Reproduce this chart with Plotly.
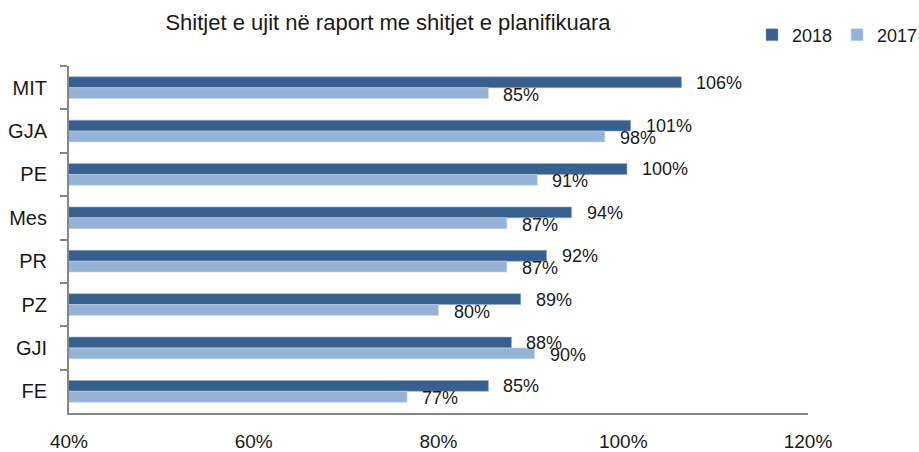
import plotly.graph_objects as go

categories = ["MIT", "GJA", "PE", "Mes", "PR", "PZ", "GJI", "FE"]
values_2018 = [106.3, 100.8, 100.4, 94.4, 91.7, 88.9, 87.9, 85.4]
values_2017 = [85.4, 98.0, 90.7, 87.4, 87.4, 80.0, 90.4, 76.6]
tick_vals = [40, 60, 80, 100, 120]
tick_text = ["40%", "60%", "80%", "100%", "120%"]

C2018 = "#37608F"
C2017 = "#95B3D7"
FONT = "Liberation Sans, Arial, sans-serif"

fig = go.Figure()
fig.add_trace(go.Bar(name="2018", y=categories, x=values_2018, orientation="h",
                     marker=dict(color=C2018, line=dict(color="#8FA9C9", width=0.6)),
                     hoverinfo="x+y"))
fig.add_trace(go.Bar(name="2017", y=categories, x=values_2017, orientation="h",
                     marker=dict(color=C2017, line=dict(color="#C5D5E9", width=0.6)),
                     hoverinfo="x+y"))

annotations = []
for c, v in zip(categories, values_2018):
    annotations.append(dict(x=v, y=c, xref="x", yref="y", text=f"{round(v)}%",
                            showarrow=False, xanchor="left", yanchor="middle",
                            xshift=13, yshift=5, font=dict(size=18, color="#1a1a1a", family=FONT)))
for c, v in zip(categories, values_2017):
    annotations.append(dict(x=v, y=c, xref="x", yref="y", text=f"{round(v)}%",
                            showarrow=False, xanchor="left", yanchor="middle",
                            xshift=13, yshift=-7, font=dict(size=18, color="#1a1a1a", family=FONT)))

fig.update_layout(
    width=919, height=452,
    margin=dict(l=69, r=111, t=66, b=39, autoexpand=False),
    paper_bgcolor="white", plot_bgcolor="white",
    font=dict(family=FONT, color="#1a1a1a"),
    barmode="group", bargap=0.5, bargroupgap=0,
    title=dict(text="Shitjet e ujit në raport me shitjet e planifikuara",
               x=388/919, xanchor="center", xref="container",
               y=1 - 15/452, yref="container", yanchor="top",
               font=dict(size=22, family=FONT, color="#1a1a1a")),
    legend=dict(orientation="h", x=752/919, xref="container", xanchor="left",
                y=1 - 35/452, yref="container", yanchor="middle",
                font=dict(size=18, family=FONT, color="#1a1a1a"),
                itemwidth=30, traceorder="normal", bgcolor="rgba(0,0,0,0)"),
    annotations=annotations,
    showlegend=True,
)
fig.update_xaxes(range=[40, 120], tickvals=tick_vals, ticktext=tick_text,
                 showgrid=False, zeroline=False, showline=True, linecolor="#868686",
                 linewidth=2, ticks="", ticklabelstandoff=10, automargin=False,
                 tickfont=dict(size=19, family=FONT, color="#1a1a1a"), fixedrange=True)
fig.update_yaxes(autorange="reversed", showgrid=False, zeroline=False, showline=True,
                 linecolor="#868686", linewidth=2, ticks="outside", tickson="boundaries",
                 ticklen=7, tickcolor="#868686", tickwidth=2, ticklabelstandoff=16,
                 automargin=False,
                 tickfont=dict(size=20, family=FONT, color="#1a1a1a"), fixedrange=True)

fig.write_html("out.html", config={"displayModeBar": False},
               post_script="document.body.style.margin='0';")
